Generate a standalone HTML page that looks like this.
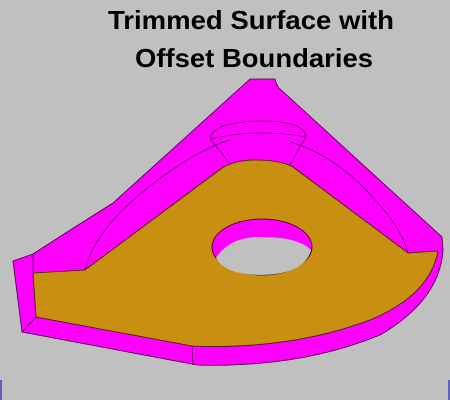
<!DOCTYPE html>
<html><head><meta charset="utf-8"><style>
html,body{margin:0;padding:0;background:#c0c0c0;}
svg{display:block;}
</style></head><body>
<svg width="450" height="400" viewBox="0 0 450 400">
<rect width="450" height="400" fill="#c0c0c0"/>
<text x="108" y="29" textLength="286" lengthAdjust="spacingAndGlyphs" font-family="Liberation Sans, sans-serif" font-weight="bold" font-size="26" fill="#000">Trimmed Surface with</text>
<text x="135" y="67" textLength="238" lengthAdjust="spacingAndGlyphs" font-family="Liberation Sans, sans-serif" font-weight="bold" font-size="26" fill="#000">Offset Boundaries</text>
<path d="M250,79 L275,79 Q276,84 279,88 L442,237 L443,250 Q440,300 380,335 Q300,368 197,365 L22,332 L13,261 L33,254 Q70,230 113,203 Z" fill="#ff00ff" stroke="#400040" stroke-width="0.8"/>
<path d="M33,273 L85,270 L222,168 Q235,160 255,160 Q280,160 293,167 L408,253 L438,251 Q430,295 370,320 Q290,350 192,346 L36,317 Z" fill="#c98f10" stroke="#302000" stroke-width="0.8"/>
<path d="M33,254 L33,273 M36,317 L22,332 M192,346 L193,365 M85,270 Q95,230 145,190 Q195,150 230,140 M408,253 Q400,220 350,175 Q320,150 290,142" fill="none" stroke="#500050" stroke-width="0.7"/>
<path d="M210,139 Q212,122 260,121 Q305,121 306,137 M210,139 Q220,150 228,162 M306,137 Q298,150 290,165 M210,139 Q258,128 306,137" fill="none" stroke="#500050" stroke-width="0.7"/>
<ellipse cx="262" cy="247" rx="50" ry="28" fill="#ff00ff" stroke="#200010" stroke-width="0.8"/>
<path d="M216,258 Q230,236 262,237 Q298,237 311,250 Q305,274 262,275 Q225,275 216,258 Z" fill="#c0c0c0"/>
<rect x="0" y="380" width="2" height="20" fill="#6060c0"/>
<rect x="448" y="380" width="2" height="20" fill="#6060c0"/>
</svg>
</body></html>
